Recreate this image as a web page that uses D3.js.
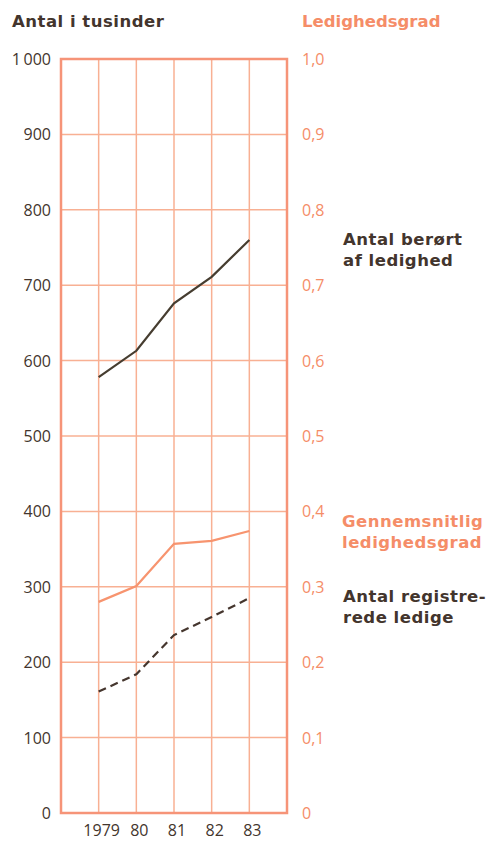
<!DOCTYPE html>
<html>
<head>
<meta charset="utf-8">
<script src="https://cdn.jsdelivr.net/npm/d3@7"></script>
<style>
  body { margin: 0; background: #fff; }
  svg { display: block; font-family: "Open Sans", sans-serif; }
  .title { font-family: "DejaVu Sans", sans-serif; font-weight: bold; font-size: 16.5px; letter-spacing: 0.5px; }
</style>
</head>
<body>
<div id="chart"></div>
<script>
// data
const years = [1979, 1980, 1981, 1982, 1983];
const yearLabels = ["1979", "80", "81", "82", "83"];
const berort = [578, 613, 676, 711, 760];          // antal berørt af ledighed (tusinder)
const registrerede = [161, 184, 236, 260, 285];    // antal registrerede ledige (tusinder)
const ledighedsgrad = [0.280, 0.301, 0.357, 0.361, 0.374];
const leftTicks = [0, 100, 200, 300, 400, 500, 600, 700, 800, 900, 1000];
const rightTicks = [0, 0.1, 0.2, 0.3, 0.4, 0.5, 0.6, 0.7, 0.8, 0.9, 1.0];

const W = 492, H = 841;
const dark = "#43352d", salmon = "#f58d68", grid = "#f8b093";

// plot area
const plotLeft = 61, plotRight = 287, plotTop = 59, plotBottom = 813;

let x = d3.scaleLinear().domain([1978, 1984]).range([plotLeft, plotRight]);
let y = d3.scaleLinear().domain([0, 1000]).range([plotBottom, plotTop]);
let y2 = d3.scaleLinear().domain([0, 1]).range([plotBottom, plotTop]);

let svg = d3.select("#chart").append("svg")
    .attr("width", W)
    .attr("height", H);

// grid lines
svg.append("g")
    .selectAll("line")
    .data(leftTicks)
    .enter().append("line")
    .attr("x1", plotLeft).attr("x2", plotRight)
    .attr("y1", d => y(d)).attr("y2", d => y(d))
    .style("stroke", grid)
    .style("stroke-width", 1.5);

svg.append("g")
    .selectAll("line")
    .data(d3.range(1978, 1985))
    .enter().append("line")
    .attr("x1", d => x(d)).attr("x2", d => x(d))
    .attr("y1", plotTop).attr("y2", plotBottom)
    .style("stroke", grid)
    .style("stroke-width", 1.5);

// frame
svg.append("rect")
    .attr("x", plotLeft).attr("y", plotTop)
    .attr("width", plotRight - plotLeft).attr("height", plotBottom - plotTop)
    .style("fill", "none")
    .style("stroke", "#f69478")
    .style("stroke-width", 2.5);

// left axis labels
svg.append("g")
    .selectAll("text")
    .data(leftTicks)
    .enter().append("text")
    .attr("x", 51)
    .attr("y", d => y(d) + 6)
    .attr("text-anchor", "end")
    .style("font-size", "16px")
    .style("fill", dark)
    .text(d => d === 1000 ? "1\u2009000" : d);

// right axis labels
svg.append("g")
    .selectAll("text")
    .data(rightTicks)
    .enter().append("text")
    .attr("x", 302)
    .attr("y", d => y2(d) + 6)
    .style("font-size", "16px")
    .style("fill", salmon)
    .text(d => d === 0 ? "0" : d3.format(".1f")(d).replace(".", ","));

// x axis labels
svg.append("g")
    .selectAll("text")
    .data(years)
    .enter().append("text")
    .attr("x", d => x(d) + 3)
    .attr("y", 836)
    .attr("text-anchor", "middle")
    .style("font-size", "16px")
    .style("fill", dark)
    .text((d, i) => yearLabels[i]);

// axis titles
svg.append("text")
    .attr("class", "title")
    .attr("x", 12).attr("y", 27)
    .style("fill", dark)
    .text("Antal i tusinder");

svg.append("text")
    .attr("class", "title")
    .attr("x", 302).attr("y", 27)
    .style("fill", salmon)
    .style("letter-spacing", "0px")
    .text("Ledighedsgrad");

// lines
let lineLeft = d3.line()
    .x((d, i) => x(years[i]))
    .y(d => y(d));
let lineRight = d3.line()
    .x((d, i) => x(years[i]))
    .y(d => y2(d));

svg.append("path")
    .datum(berort)
    .attr("d", lineLeft)
    .style("fill", "none")
    .style("stroke", "#463d30")
    .style("stroke-width", 2.2);

svg.append("path")
    .datum(ledighedsgrad)
    .attr("d", lineRight)
    .style("fill", "none")
    .style("stroke", "#f7946f")
    .style("stroke-width", 2.2);

svg.append("path")
    .datum(registrerede)
    .attr("d", lineLeft)
    .style("fill", "none")
    .style("stroke", "#45362e")
    .style("stroke-width", 2.2)
    .style("stroke-dasharray", "8,5");

// series labels
function label(lines, x0, y0, color) {
    let t = svg.append("text")
        .attr("class", "title")
        .style("fill", color);
    lines.forEach((s, i) => {
        t.append("tspan").attr("x", x0).attr("y", y0 + i * 21).text(s);
    });
}
label(["Antal berørt", "af ledighed"], 343, 245, dark);
label(["Gennemsnitlig", "ledighedsgrad"], 342, 527, salmon);
label(["Antal registre-", "rede ledige"], 343, 602, dark);
</script>
</body>
</html>
